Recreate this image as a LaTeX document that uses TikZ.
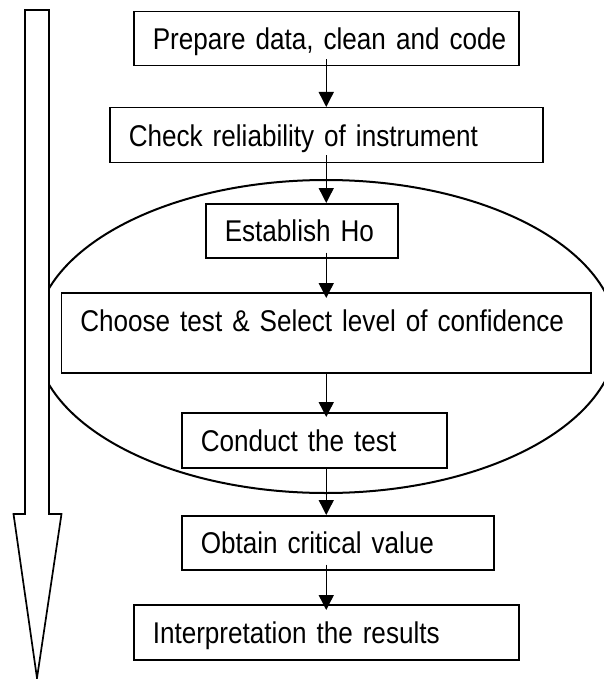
\documentclass[tikz,border=0pt]{standalone}
\usepackage{fontspec}
\setmainfont[FakeStretch=0.87, WordSpace=0.87]{Liberation Sans}
\usetikzlibrary{arrows.meta}
\tikzset{
  box/.style={draw, line width=1.5pt, anchor=north west, inner xsep=19pt, inner ysep=0pt,
    align=left, text height=22pt, text depth=0pt, font=\fontsize{30}{36}\selectfont},
  arr/.style={-{Triangle[width=15pt,length=15pt]}, line width=1.4pt},
}
\begin{document}
\begin{tikzpicture}[x=1pt,y=-1pt]
\useasboundingbox (0,0) rectangle (603,679);
% grouping ellipse
\draw[line width=2pt] (326,336.5) ellipse [x radius=291, y radius=156.5];
% big downward arrow
\draw[line width=1.7pt, fill=white, line join=miter]
  (25,10) -- (49,10) -- (49,514) -- (61.5,514) -- (37,678) -- (13.5,514) -- (25,514) -- cycle;
% boxes
\node[box, text width=347pt, minimum height=54pt] (b1) at (133,11) {\mbox{Prepare data, clean and code}};
\node[box, text width=395pt, minimum height=55pt] (b2) at (109,107) {\mbox{Check reliability of instrument}};
\node[box, text width=154pt, minimum height=54pt] (b3) at (205,203) {\mbox{Establish Ho}};
\node[box, text width=491.5pt, minimum height=80pt, text depth=24.5pt] (b4) at (60.5,292) {\mbox{Choose test \& Select level of confidence}};
\node[box, text width=227pt, minimum height=55pt] (b5) at (181,412) {\mbox{Conduct the test}};
\node[box, text width=274pt, minimum height=54pt] (b6) at (181,515) {\mbox{Obtain critical value}};
\node[box, text width=347pt, minimum height=55pt] (b7) at (133,604) {\mbox{Interpretation the results}};
% connectors
\draw[arr, shorten <=-7pt] (b1.south) -- (b2.north -| b1.south);
\draw[arr, shorten <=-8pt] (b2.south -| b1.south) -- (b3.north -| b1.south);
\draw[arr, shorten <=-6pt, shorten >=-6pt] (b3.south -| b1.south) -- (b4.north -| b1.south);
\draw[arr, shorten >=-5pt] (b4.south -| b1.south) -- (b5.north -| b1.south);
\draw[arr] (b5.south -| b1.south) -- (b6.north -| b1.south);
\draw[arr, shorten <=-6pt, shorten >=-6pt] (b6.south -| b1.south) -- (b7.north);
\end{tikzpicture}
\end{document}
